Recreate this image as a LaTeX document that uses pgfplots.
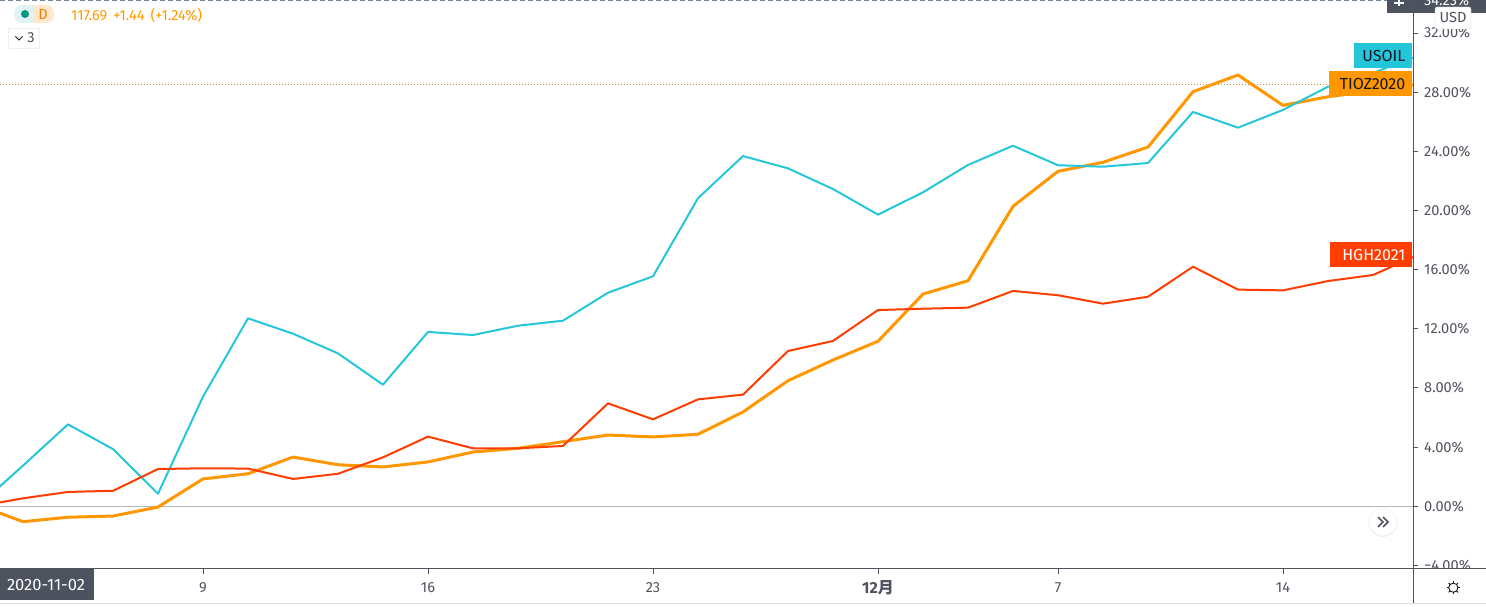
\documentclass[border=0pt]{standalone}
\usepackage{fontspec}
\setmainfont{Fira Sans}
\newfontfamily\cjk{Noto Sans CJK SC}
\usepackage{pgfplots}
\pgfplotsset{compat=1.18}
\usepackage{pgfplotstable}

\definecolor{tvcyan}{HTML}{26C6DA}
\definecolor{tvorange}{HTML}{FF9800}
\definecolor{tvred}{HTML}{FF3D00}
\definecolor{tvdark}{HTML}{4C525E}
\definecolor{tvtext}{HTML}{50535E}
\definecolor{tvgrid}{HTML}{B2B5BE}
\definecolor{tvpale}{HTML}{D1D4DC}
\definecolor{tvdash}{HTML}{758696}
\definecolor{tvteal}{HTML}{E0F2F1}
\definecolor{tvpeach}{HTML}{FFE8CC}
\definecolor{tvdot}{HTML}{009688}
\definecolor{tvdeep}{HTML}{F57C00}
\definecolor{tvink}{HTML}{131722}

% k = trading day, 5 = Nov 9; percent change since the start
\pgfplotstableread{
k  usoil  tioz   hgh
0  0.02   0.09   0.00
1  2.75  -1.04   0.54
2  5.54  -0.74   0.97
3  3.87  -0.66   1.05
4  0.85  -0.05   2.52
5  7.41   1.85   2.57
6  12.71  2.20   2.55
7  11.67  3.33   1.85
8  10.34  2.81   2.20
9  8.22   2.66   3.31
10 11.79  3.00   4.71
11 11.58  3.67   3.92
12 12.21  3.92   3.92
13 12.55  4.37   4.08
14 14.44  4.82   6.96
15 15.55  4.69   5.88
16 20.83  4.87   7.23
17 23.68  6.38   7.55
18 22.85  8.49   10.50
19 21.45  9.89   11.18
20 19.72  11.16  13.27
21 21.23  14.35  13.36
22 23.08  15.25  13.43
23 24.38  20.28  14.56
24 23.06  22.65  14.27
25 22.96  23.26  13.70
26 23.21  24.29  14.17
27 26.66  28.03  16.20
28 25.60  29.16  14.65
29 26.80  27.11  14.60
30 28.37  27.69  15.23
31 29.30  28.08  15.64
32 30.45  28.55  16.99
}\series

\newcommand{\tagfont}{\fontsize{16}{18}\selectfont}

\begin{document}
\fontsize{14.6}{16}\selectfont
\begin{tikzpicture}
\useasboundingbox (0,0) rectangle (1486pt,607pt);
\begin{axis}[
    at={(0pt,38pt)}, anchor=south west,
    scale only axis, width=1413pt, height=569pt,
    xmin=0.4889, xmax=31.889,
    ymin=-4.239, ymax=34.233,
    axis y line=right, axis x line=bottom,
    axis line style={-, draw=tvtext, line width=1pt},
    xtick={5,10,15,20,24,29},
    xticklabels={9,16,23,{\fontsize{16}{18}\selectfont\textbf{12}{\cjk\bfseries 月}},7,14},
    ytick={-4,0,4,8,12,16,20,24,28,32},
    yticklabels={−4.00\%,0.00\%,4.00\%,8.00\%,12.00\%,16.00\%,20.00\%,24.00\%,28.00\%,32.00\%},
    tick align=outside, major tick length=5pt,
    tick style={draw=tvtext, line width=1pt},
    xticklabel style={text=tvtext, inner sep=0pt, anchor=center, yshift=-14pt},
    yticklabel style={text=tvtext, inner sep=0pt, anchor=west, xshift=6pt},
]
\addplot[tvgrid, line width=1pt, forget plot] coordinates {(0.4889,0) (31.889,0)};
\addplot[tvorange!55!gray, line width=0.7pt, dash pattern=on 1pt off 2pt, forget plot] coordinates {(0.4889,28.55) (31.889,28.55)};
\addplot[tvorange, line width=3pt, line join=round] table[x=k, y=tioz] {\series};
\addplot[tvcyan, line width=2pt, line join=round] table[x=k, y=usoil] {\series};
\addplot[tvred, line width=2pt, line join=round] table[x=k, y=hgh] {\series};
\end{axis}

% pane furniture, coordinates in reference pixels from the top left
\begin{scope}[x=1pt, y=-1pt, yshift=607pt]
  % top edge
  \draw[draw=tvdash, line width=1pt, dash pattern=on 5pt off 3pt] (0,0.7) -- (1387,0.7);
  \fill[tvdark] (1387,0) rectangle (1486,13);
  \draw[white, line width=1.2pt] (1399,0) -- (1399,6.5) (1394,3) -- (1404,3);
  \begin{scope}
    \clip (1413,0) rectangle (1486,13);
    \node[white, anchor=west, inner sep=0pt] at (1424,1) {34.23\%};
  \end{scope}
  \draw[tvpale, fill=white, rounded corners=2pt] (1435,7) rectangle (1471,29);
  \node[tvtext, inner sep=0pt] at (1453,17.5) {USD};

  % last value tags
  \fill[tvcyan] (1354,43) rectangle (1412,68);
  \node[tvink, anchor=east, inner sep=0pt] at (1405.5,56) {\tagfont USOIL};
  \fill[tvorange] (1329,71) rectangle (1412,96);
  \node[tvink, anchor=east, inner sep=0pt] at (1405.5,84) {\tagfont TIOZ2020};
  \fill[tvred] (1330,242) rectangle (1412,267);
  \node[white, anchor=east, inner sep=0pt] at (1405.5,255) {\tagfont HGH2021};

  % bottom pane
  \fill[white] (1414,569.5) rectangle (1486,602);
  \draw[tvtext, line width=1pt] (1413,0) -- (1413,604);
  \draw[tvtext, line width=1pt] (0,569) -- (1486,569);
  \draw[tvpale!70, line width=1pt] (0,603.5) -- (1486,603.5);
  \fill[tvdark] (0,569) rectangle (94,600);
  \node[white, inner sep=0pt] at (46,585) {\fontsize{16.5}{18}\selectfont 2020-11-02};

  % gear
  \draw[tvink, line width=0.9pt] (1453.3,587.7) circle (4.6);
  \foreach \a in {0,45,...,315}
    \draw[tvink, line width=0.9pt] (1453.3,587.7) ++(\a:4.6) -- ++(\a:2);

  % scroll button
  \fill[black!6] (1383,522.5) circle (14.5);
  \fill[white] (1383,522) circle (13.5);
  \draw[tvtext, line width=1.6pt]
    (1378,517) -- (1383,522) -- (1378,527)
    (1383,517) -- (1388,522) -- (1383,527);

  % legend
  \fill[tvteal, rounded corners=8pt] (14,5) rectangle (40,23);
  \fill[tvpeach, rounded corners=8pt] (28,5) rectangle (54,23);
  \fill[tvteal] (30,5) rectangle (34,23);
  \fill[tvpeach] (34,5) rectangle (40,23);
  \fill[tvdot] (25,14) circle (4);
  \node[tvdeep, inner sep=0pt] at (43,14) {D};
  \node[tvorange, anchor=west, inner sep=0pt] at (71,15)
    {117.69\hspace{6pt}+1.44\hspace{6pt}(+1.24\%)};
  \draw[tvpale, fill=white, rounded corners=2pt] (8.5,28.5) rectangle (39.5,48.5);
  \draw[tvink, line width=1pt] (15.5,36.5) -- (19,40) -- (22.5,36.5);
  \node[tvtext, inner sep=0pt] at (31,38) {3};
\end{scope}
\end{tikzpicture}
\end{document}
